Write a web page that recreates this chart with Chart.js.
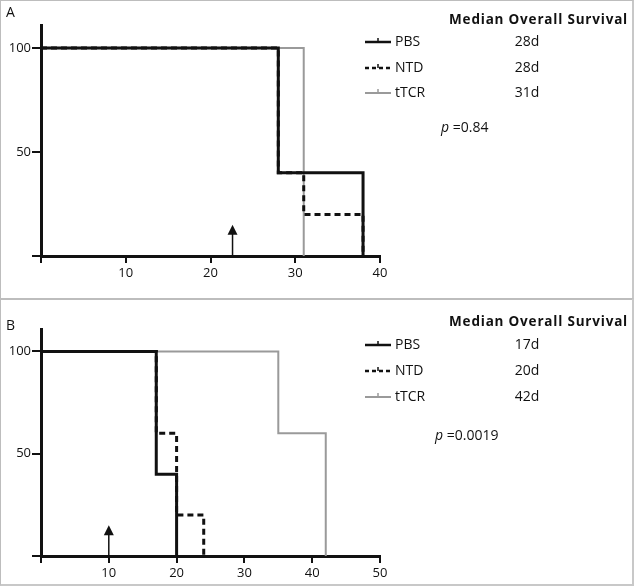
<!DOCTYPE html>
<html>
<head>
<meta charset="utf-8">
<script src="https://cdn.jsdelivr.net/npm/chart.js@4.4.1/dist/chart.umd.min.js"></script>
<style>
  html, body { margin: 0; padding: 0; background: #fff; }
  #wrap { position: relative; width: 634px; height: 587px; overflow: hidden; }
  .panel { position: absolute; left: 0; width: 634px; box-sizing: border-box;
           border: 1px solid #bdbdbd; border-right: 2px solid #c8c8c8; }
  #pa { top: 0; height: 300px; }
  #pb { top: 298px; height: 288px; border-bottom: 2px solid #c8c8c8; }
  canvas { position: absolute; left: 0; }
  #ca { top: 0; }
  #cb { top: 299px; }
</style>
</head>
<body>
<div id="wrap">
  <div class="panel" id="pa"></div>
  <div class="panel" id="pb"></div>
  <canvas id="ca" width="634" height="299"></canvas>
  <canvas id="cb" width="634" height="288"></canvas>
</div>
<script>
// ---------------- data ----------------
const groups = ['PBS', 'NTD', 'tTCR'];
const yTicks = [0, 50, 100];

// Panel A
const xTicksA = [0, 10, 20, 30, 40];
const A_PBS_days = [0, 28, 38];
const A_PBS_surv = [100, 40, 0];
const A_NTD_days = [0, 28, 31, 38];
const A_NTD_surv = [100, 40, 20, 0];
const A_tTCR_days = [0, 31];
const A_tTCR_surv = [100, 0];
const A_median = ['28d', '28d', '31d'];
const A_p = '=0.84';
const A_arrowDay = 22.6;
const A_arrowTip = 15;

// Panel B
const xTicksB = [0, 10, 20, 30, 40, 50];
const B_PBS_days = [0, 17, 20];
const B_PBS_surv = [100, 40, 0];
const B_NTD_days = [0, 17, 20, 24];
const B_NTD_surv = [100, 60, 20, 0];
const B_tTCR_days = [0, 35, 42];
const B_tTCR_surv = [100, 60, 0];
const B_median = ['17d', '20d', '42d'];
const B_p = '=0.0019';
const B_arrowDay = 10;
const B_arrowTip = 15;

const legendTitle = 'Median Overall Survival';

// ---------------- helpers ----------------
const FONT = '"Open Sans", "DejaVu Sans", sans-serif';
const BLACK = '#111111';
const GRAY = '#9a9a9a';
const styles = [
  { color: BLACK, width: 3, dash: [] },
  { color: BLACK, width: 3, dash: [6, 4] },
  { color: GRAY, width: 2, dash: [] }
];

function pts(days, surv) { return days.map((d, i) => ({ x: d, y: surv[i] })); }

function makePanel(canvasId, cfg) {
  const sets = cfg.series.map((s, i) => ({
    label: groups[i],
    data: pts(s[0], s[1]),
    stepped: true,
    borderColor: styles[i].color,
    borderWidth: styles[i].width,
    borderDash: styles[i].dash,
    pointRadius: 0,
    fill: false,
    clip: false,
    borderCapStyle: 'butt',
    borderJoinStyle: 'miter'
  }));

  const decor = {
    id: 'decor_' + canvasId,
    afterDatasetsDraw(chart) {
      const ctx = chart.ctx;
      const xs = chart.scales.x, ys = chart.scales.y;
      ctx.save();
      // arrow
      const ax = xs.getPixelForValue(cfg.arrowDay);
      const a0 = ys.getPixelForValue(0);
      const at = ys.getPixelForValue(cfg.arrowTip);
      ctx.strokeStyle = BLACK; ctx.fillStyle = BLACK; ctx.lineWidth = 1.5;
      ctx.beginPath(); ctx.moveTo(ax, a0); ctx.lineTo(ax, at + 8); ctx.stroke();
      ctx.beginPath(); ctx.moveTo(ax, at); ctx.lineTo(ax - 5, at + 10); ctx.lineTo(ax + 5, at + 10); ctx.closePath(); ctx.fill();

      // panel letter
      ctx.fillStyle = BLACK; ctx.textBaseline = 'middle'; ctx.textAlign = 'left';
      ctx.font = '14px ' + FONT;
      ctx.fillText(cfg.letter, 6, cfg.letterY);

      // legend title
      ctx.font = 'bold 13.5px ' + FONT;
      ctx.letterSpacing = '0.8px';
      ctx.textAlign = 'right';
      ctx.fillText(legendTitle, 628, cfg.titleY);
      ctx.letterSpacing = '0px';

      // legend rows
      for (let i = 0; i < 3; i++) {
        const y = cfg.rowY[i];
        const st = styles[i];
        ctx.strokeStyle = st.color; ctx.lineWidth = st.width === 3 ? 2.5 : 2;
        ctx.setLineDash(i === 1 ? [4, 3] : []);
        ctx.beginPath(); ctx.moveTo(365, y); ctx.lineTo(391, y); ctx.stroke();
        ctx.setLineDash([]);
        ctx.lineWidth = 1.5;
        ctx.beginPath(); ctx.moveTo(378, y); ctx.lineTo(378, y - 4); ctx.stroke();
        ctx.fillStyle = BLACK; ctx.textAlign = 'left';
        ctx.font = '14px ' + FONT;
        ctx.fillText(groups[i], 395, y);
        ctx.textAlign = 'center';
        ctx.fillText(cfg.median[i], 527, y);
      }
      // p value
      ctx.textAlign = 'left';
      ctx.font = 'italic 14px ' + FONT;
      ctx.fillText('p', cfg.pX, cfg.pY);
      const pw = ctx.measureText('p ').width;
      ctx.font = '14px ' + FONT;
      ctx.fillText(cfg.pText, cfg.pX + pw, cfg.pY);
      ctx.restore();
    }
  };

  const tickFont = { family: FONT, size: 13 };
  return new Chart(document.getElementById(canvasId), {
    type: 'line',
    data: { datasets: sets },
    plugins: [decor],
    options: {
      responsive: false,
      animation: false,
      events: [],
      layout: { padding: { left: 0, right: 254, top: cfg.top, bottom: 0 } },
      plugins: { legend: { display: false }, tooltip: { enabled: false }, title: { display: false } },
      scales: {
        x: {
          type: 'linear', min: 0, max: cfg.xMax,
          afterBuildTicks: s => { s.ticks = cfg.xTicks.map(v => ({ value: v })); },
          afterFit: s => { s.height = cfg.xH; },
          ticks: { callback: v => (v === 0 ? '' : String(v)), font: tickFont, color: BLACK, padding: 2, maxRotation: 0, autoSkip: false },
          grid: { drawOnChartArea: false, drawTicks: true, tickLength: 7, color: BLACK, lineWidth: 2 },
          border: { display: true, color: BLACK, width: 3 }
        },
        y: {
          type: 'linear', min: 0, max: 111,
          afterBuildTicks: s => { s.ticks = yTicks.map(v => ({ value: v })); },
          afterFit: s => { s.width = 41; },
          ticks: { callback: v => (v === 0 ? '' : String(v)), font: tickFont, color: BLACK, padding: 1 },
          grid: { drawOnChartArea: false, drawTicks: true, tickLength: 9, color: BLACK, lineWidth: 2 },
          border: { display: true, color: BLACK, width: 3 }
        }
      }
    }
  });
}

makePanel('ca', {
  series: [[A_PBS_days, A_PBS_surv], [A_NTD_days, A_NTD_surv], [A_tTCR_days, A_tTCR_surv]],
  xTicks: xTicksA, xMax: 40, xH: 43, top: 25,
  arrowDay: A_arrowDay, arrowTip: A_arrowTip,
  median: A_median, pText: A_p,
  letter: 'A', letterY: 13, titleY: 20, rowY: [42, 68, 93], pX: 441, pY: 128
});
makePanel('cb', {
  series: [[B_PBS_days, B_PBS_surv], [B_NTD_days, B_NTD_surv], [B_tTCR_days, B_tTCR_surv]],
  xTicks: xTicksB, xMax: 50, xH: 31, top: 30,
  arrowDay: B_arrowDay, arrowTip: B_arrowTip,
  median: B_median, pText: B_p,
  letter: 'B', letterY: 27, titleY: 23, rowY: [46, 72, 98], pX: 435, pY: 137
});
</script>
</body>
</html>
